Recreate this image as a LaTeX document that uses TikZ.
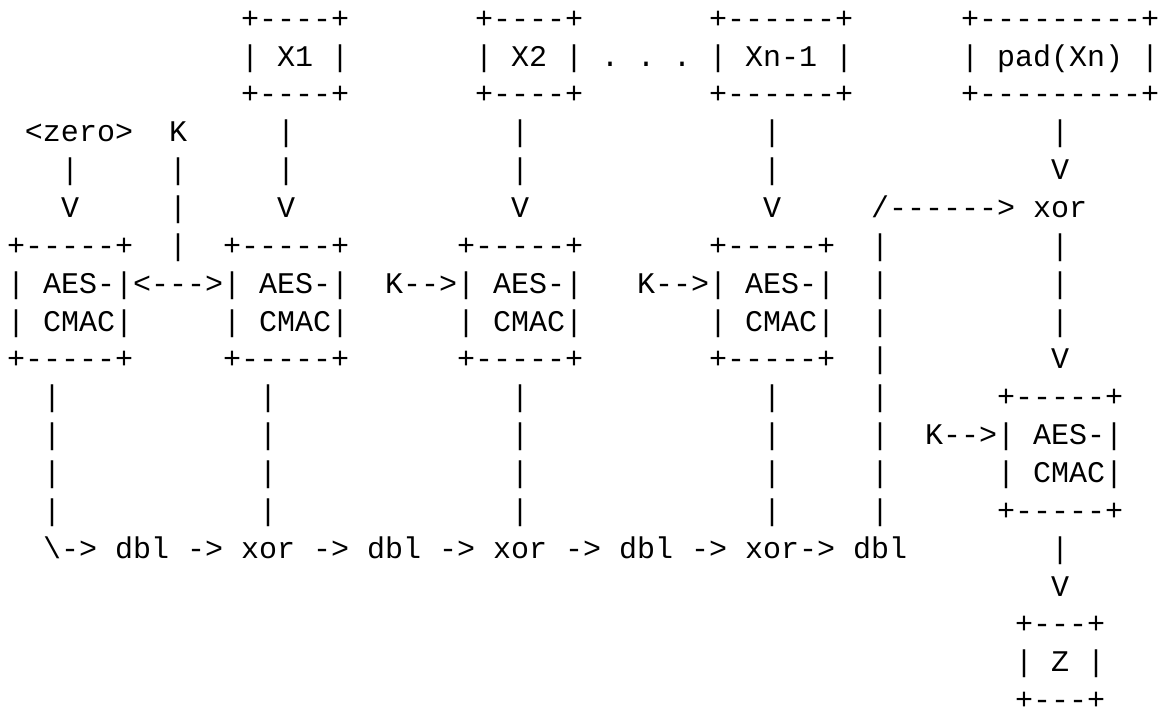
\documentclass[tikz,border=0pt]{standalone}
\usepackage{fontspec}
\setmonofont{Liberation Mono}
\newcommand\atcell[3]{\node[asc] (r#1c#2) at ({7+18*#2},{-(66+37.86*(#1-2))}) {#3};}
\begin{document}
\begin{tikzpicture}[x=0.5pt,y=0.5pt,
  asc/.style={anchor=base west,inner sep=0pt,outer sep=0pt,text=black,
    font=\fontsize{15}{18}\selectfont\ttfamily}]
\fill[white] (0,0) rectangle (1170,-707);
\useasboundingbox (0,0) rectangle (1170,-707);
% row 1
\atcell{1}{13}{+----+}\atcell{1}{26}{+----+}\atcell{1}{39}{+------+}\atcell{1}{53}{+---------+}
% row 2
\atcell{2}{13}{|}\atcell{2}{15}{X1}\atcell{2}{18}{|}
\atcell{2}{26}{|}\atcell{2}{28}{X2}\atcell{2}{31}{|}
\atcell{2}{33}{.}\atcell{2}{35}{.}\atcell{2}{37}{.}
\atcell{2}{39}{|}\atcell{2}{41}{Xn-1}\atcell{2}{46}{|}
\atcell{2}{53}{|}\atcell{2}{55}{pad(Xn)}\atcell{2}{63}{|}
% row 3
\atcell{3}{13}{+----+}\atcell{3}{26}{+----+}\atcell{3}{39}{+------+}\atcell{3}{53}{+---------+}
% row 4
\atcell{4}{1}{<zero>}\atcell{4}{9}{K}\atcell{4}{15}{|}\atcell{4}{28}{|}\atcell{4}{42}{|}\atcell{4}{58}{|}
% row 5
\atcell{5}{3}{|}\atcell{5}{9}{|}\atcell{5}{15}{|}\atcell{5}{28}{|}\atcell{5}{42}{|}\atcell{5}{58}{V}
% row 6
\atcell{6}{3}{V}\atcell{6}{9}{|}\atcell{6}{15}{V}\atcell{6}{28}{V}\atcell{6}{42}{V}
\atcell{6}{48}{/------>}\atcell{6}{57}{xor}
% row 7
\atcell{7}{0}{+-----+}\atcell{7}{9}{|}\atcell{7}{12}{+-----+}\atcell{7}{25}{+-----+}\atcell{7}{39}{+-----+}
\atcell{7}{48}{|}\atcell{7}{58}{|}
% row 8
\atcell{8}{0}{|}\atcell{8}{2}{AES-|<--->|}\atcell{8}{14}{AES-|}
\atcell{8}{21}{K-->|}\atcell{8}{27}{AES-|}
\atcell{8}{35}{K-->|}\atcell{8}{41}{AES-|}
\atcell{8}{48}{|}\atcell{8}{58}{|}
% row 9
\atcell{9}{0}{|}\atcell{9}{2}{CMAC|}\atcell{9}{12}{|}\atcell{9}{14}{CMAC|}
\atcell{9}{25}{|}\atcell{9}{27}{CMAC|}\atcell{9}{39}{|}\atcell{9}{41}{CMAC|}
\atcell{9}{48}{|}\atcell{9}{58}{|}
% row 10
\atcell{10}{0}{+-----+}\atcell{10}{12}{+-----+}\atcell{10}{25}{+-----+}\atcell{10}{39}{+-----+}
\atcell{10}{48}{|}\atcell{10}{58}{V}
% row 11
\atcell{11}{2}{|}\atcell{11}{14}{|}\atcell{11}{28}{|}\atcell{11}{42}{|}\atcell{11}{48}{|}\atcell{11}{55}{+-----+}
% row 12
\atcell{12}{2}{|}\atcell{12}{14}{|}\atcell{12}{28}{|}\atcell{12}{42}{|}\atcell{12}{48}{|}
\atcell{12}{51}{K-->|}\atcell{12}{57}{AES-|}
% row 13
\atcell{13}{2}{|}\atcell{13}{14}{|}\atcell{13}{28}{|}\atcell{13}{42}{|}\atcell{13}{48}{|}
\atcell{13}{55}{|}\atcell{13}{57}{CMAC|}
% row 14
\atcell{14}{2}{|}\atcell{14}{14}{|}\atcell{14}{28}{|}\atcell{14}{42}{|}\atcell{14}{48}{|}\atcell{14}{55}{+-----+}
% row 15
\atcell{15}{2}{\textbackslash->}\atcell{15}{6}{dbl}\atcell{15}{10}{->}\atcell{15}{13}{xor}
\atcell{15}{17}{->}\atcell{15}{20}{dbl}\atcell{15}{24}{->}\atcell{15}{27}{xor}
\atcell{15}{31}{->}\atcell{15}{34}{dbl}\atcell{15}{38}{->}\atcell{15}{41}{xor->}
\atcell{15}{47}{dbl}\atcell{15}{58}{|}
% row 16-19
\atcell{16}{58}{V}
\atcell{17}{56}{+---+}
\atcell{18}{56}{|}\atcell{18}{58}{Z}\atcell{18}{60}{|}
\atcell{19}{56}{+---+}
\end{tikzpicture}
\end{document}
